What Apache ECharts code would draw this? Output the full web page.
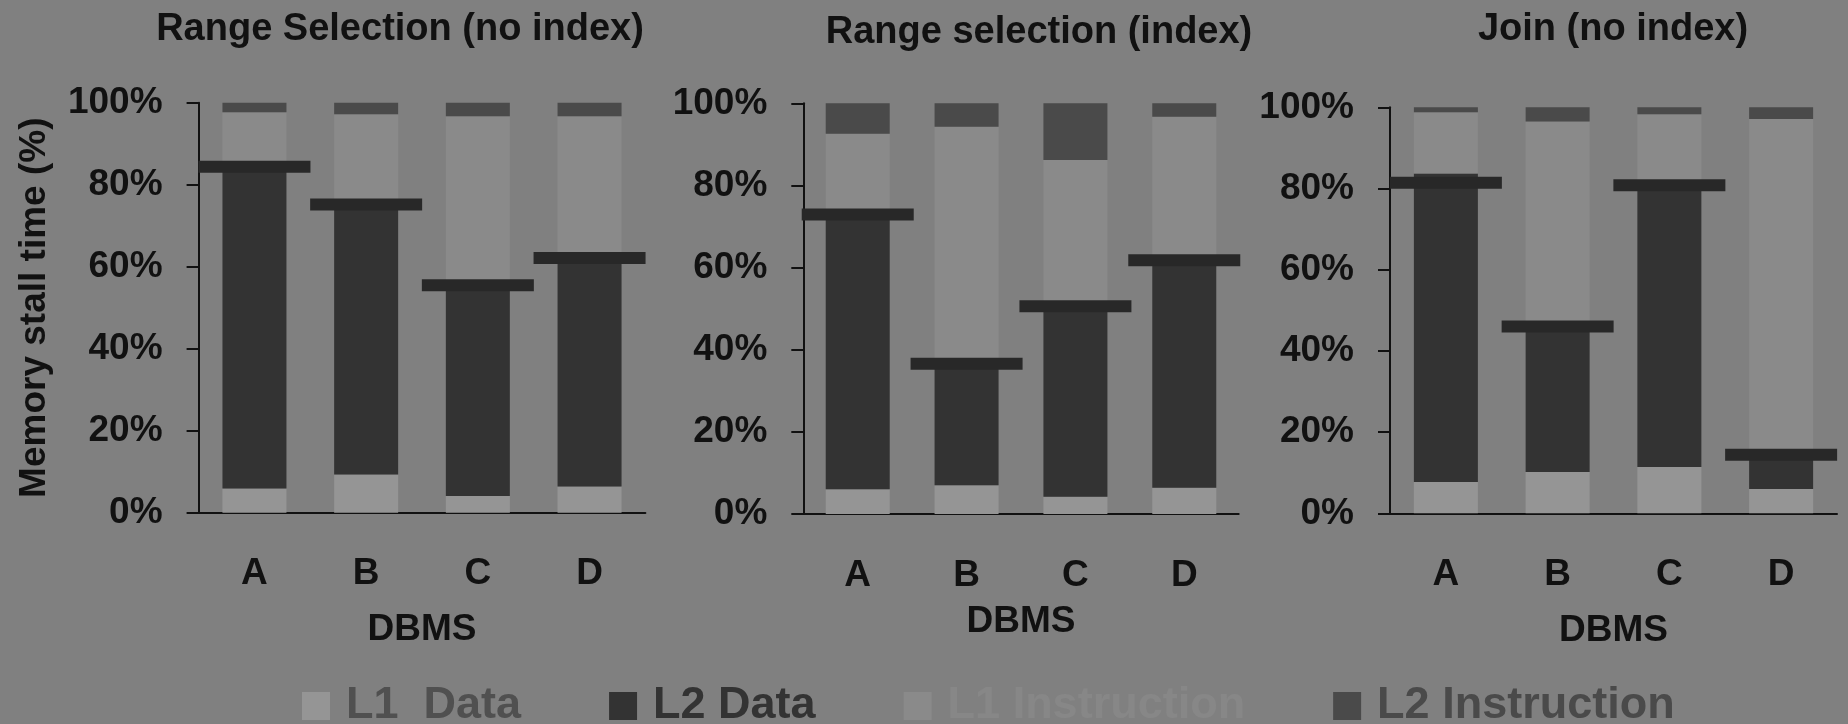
<!DOCTYPE html>
<html>
<head>
    <meta charset="utf-8">
    <title>Memory stall time</title>
    <style>
        html, body { margin: 0; padding: 0; background: #808080; }
        #main { width: 1848px; height: 724px; }
    </style>
</head>
<body>
<div id="main"></div>
<script src="https://cdn.jsdelivr.net/npm/echarts@6/dist/echarts.min.js"></script>
<script>
    var dbms = ['A', 'B', 'C', 'D'];
    var yTicks = [0, 20, 40, 60, 80, 100];
    var titles = ['Range Selection (no index)', 'Range selection (index)', 'Join (no index)'];
    var legendNames = ['L1  Data', 'L2 Data', 'L1 Instruction', 'L2 Instruction'];

    // Range Selection (no index)
    var rsL1Data = [5.9, 9.3, 4.1, 6.4];
    var rsL2Data = [78.5, 65.9, 51.4, 55.7];
    var rsL1Instr = [13.3, 22.0, 41.2, 34.6];
    var rsL2Instr = [2.3, 2.8, 3.3, 3.3];
    var rsMark = [84.4, 75.2, 55.5, 62.1];

    // Range selection (index)
    var riL1Data = [6.0, 7.0, 4.2, 6.4];
    var riL2Data = [66.9, 29.6, 46.4, 55.4];
    var riL1Instr = [19.7, 57.7, 35.6, 34.9];
    var riL2Instr = [7.4, 5.7, 13.8, 3.3];
    var riMark = [72.9, 36.6, 50.6, 61.8];

    // Join (no index)
    var jnL1Data = [7.7, 10.2, 11.4, 6.0];
    var jnL2Data = [76.0, 35.8, 69.4, 8.4];
    var jnL1Instr = [15.1, 50.5, 17.5, 82.7];
    var jnL2Instr = [1.2, 3.5, 1.7, 2.9];
    var jnMark = [81.4, 46.0, 80.8, 14.4];

    var panels = [
        [rsL1Data, rsL2Data, rsL1Instr, rsL2Instr, rsMark],
        [riL1Data, riL2Data, riL1Instr, riL2Instr, riMark],
        [jnL1Data, jnL2Data, jnL1Instr, jnL2Instr, jnMark]
    ];

    var font = "'Liberation Sans', Arial, sans-serif";
    var ink = '#111111';
    var barColors = ['#959595', '#333333', '#8a8a8a', '#4a4a4a'];
    var legendTextColors = ['#505050', '#333333', '#878787', '#4a4a4a'];

    var grids = [
        {left: 198.6, top: 102.7, width: 446.8, height: 410},
        {left: 803.3, top: 103.3, width: 435.4, height: 410.7},
        {left: 1390, top: 107.3, width: 447, height: 406}
    ];
    var titlePos = [[395, 6], [1034, 9], [1608, 6]];
    var nameGaps = [99, 89, 99];

    var xAxes = [], yAxes = [], series = [], titleList = [];
    for (var g = 0; g < 3; g++) {
        titleList.push({
            text: titles[g], left: titlePos[g][0], top: titlePos[g][1], textAlign: 'center',
            textStyle: {fontFamily: font, fontSize: 38, fontWeight: 'bold', color: ink}
        });
        xAxes.push({
            type: 'category', gridIndex: g, data: dbms,
            name: 'DBMS', nameLocation: 'middle', nameGap: nameGaps[g],
            nameTextStyle: {fontFamily: font, fontSize: 37, fontWeight: 'bold', color: ink},
            axisLine: {lineStyle: {color: ink, width: 2}},
            axisTick: {length: 13, lineStyle: {color: ink, width: 2}},
            axisLabel: {margin: 43, fontFamily: font, fontSize: 37, fontWeight: 'bold', color: ink}
        });
        yAxes.push({
            type: 'value', gridIndex: g, min: yTicks[0], max: yTicks[yTicks.length - 1],
            interval: yTicks[1] - yTicks[0],
            name: g === 0 ? 'Memory stall time (%)' : '',
            nameLocation: 'middle', nameGap: 145,
            nameTextStyle: {fontFamily: font, fontSize: 37, fontWeight: 'bold', color: ink},
            axisLine: {show: true, lineStyle: {color: ink, width: 2}},
            axisTick: {show: true, length: 12, lineStyle: {color: ink, width: 2}},
            splitLine: {show: false},
            axisLabel: {margin: 36, formatter: '{value}%', fontFamily: font, fontSize: 37, fontWeight: 'bold', color: ink}
        });
        for (var s = 0; s < 4; s++) {
            series.push({
                name: legendNames[s], type: 'bar', stack: 'p' + g,
                xAxisIndex: g, yAxisIndex: g, barWidth: 64,
                itemStyle: {color: barColors[s]},
                data: panels[g][s]
            });
        }
        series.push({
            name: 'mark' + g, type: 'scatter', xAxisIndex: g, yAxisIndex: g,
            symbol: 'rect', symbolSize: [112, 12], z: 5,
            itemStyle: {color: '#282828', opacity: 1},
            data: panels[g][4]
        });
    }

    var myChart = echarts.init(document.getElementById('main'));
    var option = {
        backgroundColor: '#808080',
        animation: false,
        title: titleList,
        legend: {
            left: 302, top: 683.5, padding: 0, itemGap: 88,
            itemWidth: 28, itemHeight: 28, icon: 'rect',
            data: legendNames.map(function (n, i) {
                return {name: n, textStyle: {color: legendTextColors[i]}};
            }),
            textStyle: {fontFamily: font, fontSize: 45, fontWeight: 'bold', padding: [0, 0, 0, 11]}
        },
        grid: grids,
        xAxis: xAxes,
        yAxis: yAxes,
        series: series
    };
    myChart.setOption(option);
</script>
</body>
</html>
